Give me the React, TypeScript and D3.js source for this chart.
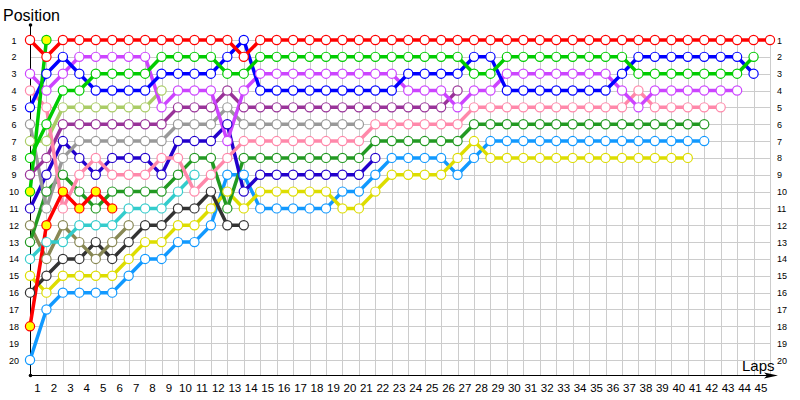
import * as d3 from 'd3';

// positions per lap, index 0 = grid
const red = [1,2,1,1,1,1,1,1,1,1,1,1,1,2,1,1,1,1,1,1,1,1,1,1,1,1,1,1,1,1,1,1,1,1,1,1,1,1,1,1,1,1,1,1,1,1];
const green = [8,6,4,4,3,3,3,3,2,2,2,2,3,3,2,2,2,2,2,2,2,2,2,2,2,2,2,3,3,2,2,2,2,2,2,2,2,3,3,3,3,3,3,3,2];
const blue = [5,3,2,3,4,4,4,4,3,3,3,3,2,1,4,4,4,4,4,4,4,4,4,3,3,3,3,2,2,4,4,4,4,4,4,4,3,2,2,2,2,2,2,2,3];
const magenta = [3,4,3,2,2,2,2,2,5,4,4,4,7,4,3,3,3,3,3,3,3,3,3,4,4,4,5,4,4,3,3,3,3,3,3,3,4,5,4,4,4,4,4,4];
const pink = [4,5,11,9,8,9,9,9,8,8,10,9,8,7,7,7,7,7,7,7,7,6,6,6,6,6,6,5,5,5,5,5,5,5,5,5,5,4,5,5,5,5,5];
const lightGreen = [7,7,5,5,5,5,5,5,4];
const purple = [9,8,6,6,6,6,6,6,6,5,5,5,4,5,5,5,5,5,5,5,5,5,5,5,5,5,4];
const gray = [6,11,8,7,7,7,7,7,7,6,6,6,5,6,6,6,6,6,6,6,6];
const navy = [11,9,7,8,9,8,8,8,9,7,7,7,6,10,9,9,9,9,9,9,9,8];
const darkGreen = [13,10,9,10,11,10,10,10,10,9,8,8,11,8,8,8,8,8,8,8,8,7,7,7,7,7,7,6,6,6,6,6,6,6,6,6,6,6,6,6,6,6];
const cyan = [14,13,13,12,12,12,11,11,11,10,9];
const olive = [12,14,12,13,14,13,12];
const darkGray = [16,15,14,14,13,14,13,12,12,11,11,10,12,12];
const yellow = [15,16,15,15,15,15,14,13,13,12,12,11,10,11,10,10,10,10,10,11,11,10,9,9,9,9,8,7,8,8,8,8,8,8,8,8,8,8,8,8,8];
const lightBlue = [20,17,16,16,16,16,15,14,14,13,13,12,9,9,11,11,11,11,11,10,10,9,8,8,8,8,9,8,7,7,7,7,7,7,7,7,7,7,7,7,7,7];
const red2 = [18,12,10,11,10,11];
const greenFast = [10,1];

const lapLabels = [1,2,3,4,5,6,7,8,9,10,11,12,13,14,15,16,17,18,19,20,21,22,23,24,25,26,27,28,29,30,31,32,33,34,35,36,37,38,39,40,41,42,43,44,45];
const positionLabels = [1,2,3,4,5,6,7,8,9,10,11,12,13,14,15,16,17,18,19,20];

const series = [
  { name: 'lightBlue', data: lightBlue, color: '#1199ff', fill: '#fff' },
  { name: 'yellow', data: yellow, color: '#dddd00', fill: '#fff' },
  { name: 'darkGray', data: darkGray, color: '#333333', fill: '#fff' },
  { name: 'olive', data: olive, color: '#888855', fill: '#fff' },
  { name: 'cyan', data: cyan, color: '#33cccc', fill: '#fff' },
  { name: 'darkGreen', data: darkGreen, color: '#229922', fill: '#fff' },
  { name: 'navy', data: navy, color: '#2200cc', fill: '#fff' },
  { name: 'gray', data: gray, color: '#999999', fill: '#fff' },
  { name: 'purple', data: purple, color: '#993399', fill: '#fff' },
  { name: 'lightGreen', data: lightGreen, color: '#aacc66', fill: '#fff' },
  { name: 'pink', data: pink, color: '#ff88aa', fill: '#fff' },
  { name: 'magenta', data: magenta, color: '#cc44ff', fill: '#fff' },
  { name: 'blue', data: blue, color: '#0000ff', fill: '#fff' },
  { name: 'green', data: green, color: '#00cc00', fill: '#fff' },
  { name: 'red2', data: red2, color: '#ff0000', fill: '#ffff00' },
  { name: 'greenFast', data: greenFast, color: '#00cc00', fill: '#ffff00' },
  { name: 'red', data: red, color: '#ff0000', fill: '#fff' },
];

const W = 800;
const H = 400;

export default function App() {
  const x = d3.scaleLinear().domain([0, 45]).range([30, 770]);
  const y = d3.scaleLinear().domain([1, 20]).range([40, 360]);
  const axisY = 375.5;
  const line = d3.line<number>().x((d, i) => x(i)).y(d => y(d));
  const font = '"Liberation Sans", Arial, sans-serif';

  return (
    <svg width={W} height={H} style={{ position: 'absolute', left: 0, top: 0, background: '#fff' }}>
      {/* grid */}
      <g stroke="#cccccc" strokeWidth={1}>
        {lapLabels.map(l => (
          <line key={'v' + l} x1={Math.round(x(l)) + 0.5} x2={Math.round(x(l)) + 0.5} y1={y(1)} y2={axisY} />
        ))}
        {positionLabels.map(p => (
          <line key={'h' + p} x1={x(0)} x2={x(45)} y1={Math.round(y(p)) + 0.5} y2={Math.round(y(p)) + 0.5} />
        ))}
      </g>

      {/* axes */}
      <line x1={30.5} x2={30.5} y1={25} y2={axisY} stroke="#000" strokeWidth={1} />
      <circle cx={30.5} cy={25} r={1.8} fill="#000" />
      <circle cx={30.5} cy={axisY} r={1.8} fill="#000" />
      <line x1={30} x2={772} y1={axisY} y2={axisY} stroke="#000" strokeWidth={1} />
      <path d={`M778,${axisY} L764,${axisY - 3} L767,${axisY} L764,${axisY + 3} Z`} fill="#000" />

      <text x={3} y={21} fontFamily={font} fontSize={16} fill="#000">Position</text>
      <text x={742} y={371} fontFamily={font} fontSize={15} fill="#000">Laps</text>

      {positionLabels.map(p => (
        <text key={'yl' + p} x={14} y={y(p) + 3.5} textAnchor="middle" fontFamily={font} fontSize={9} fill="#000">{p}</text>
      ))}
      {positionLabels.map(p => (
        <text key={'yr' + p} x={777} y={y(p) + 3.5} fontFamily={font} fontSize={9} fill="#000">{p}</text>
      ))}
      {lapLabels.map(l => (
        <text key={'xl' + l} x={x(l) - 9} y={392} textAnchor="middle" fontFamily={font} fontSize={11.5} fill="#000">{l}</text>
      ))}

      {/* series */}
      {series.map(s => (
        <g key={s.name}>
          <path d={line(s.data) || ''} fill="none" stroke={s.color} strokeWidth={3.5} strokeLinejoin="round" />
        </g>
      ))}
      {series.map(s => (
        <g key={s.name + 'm'}>
          {s.data.map((d, i) => (
            <circle key={i} cx={x(i)} cy={y(d)} r={4.6} fill={s.fill} stroke={s.color} strokeWidth={1.2} />
          ))}
        </g>
      ))}
    </svg>
  );
}
